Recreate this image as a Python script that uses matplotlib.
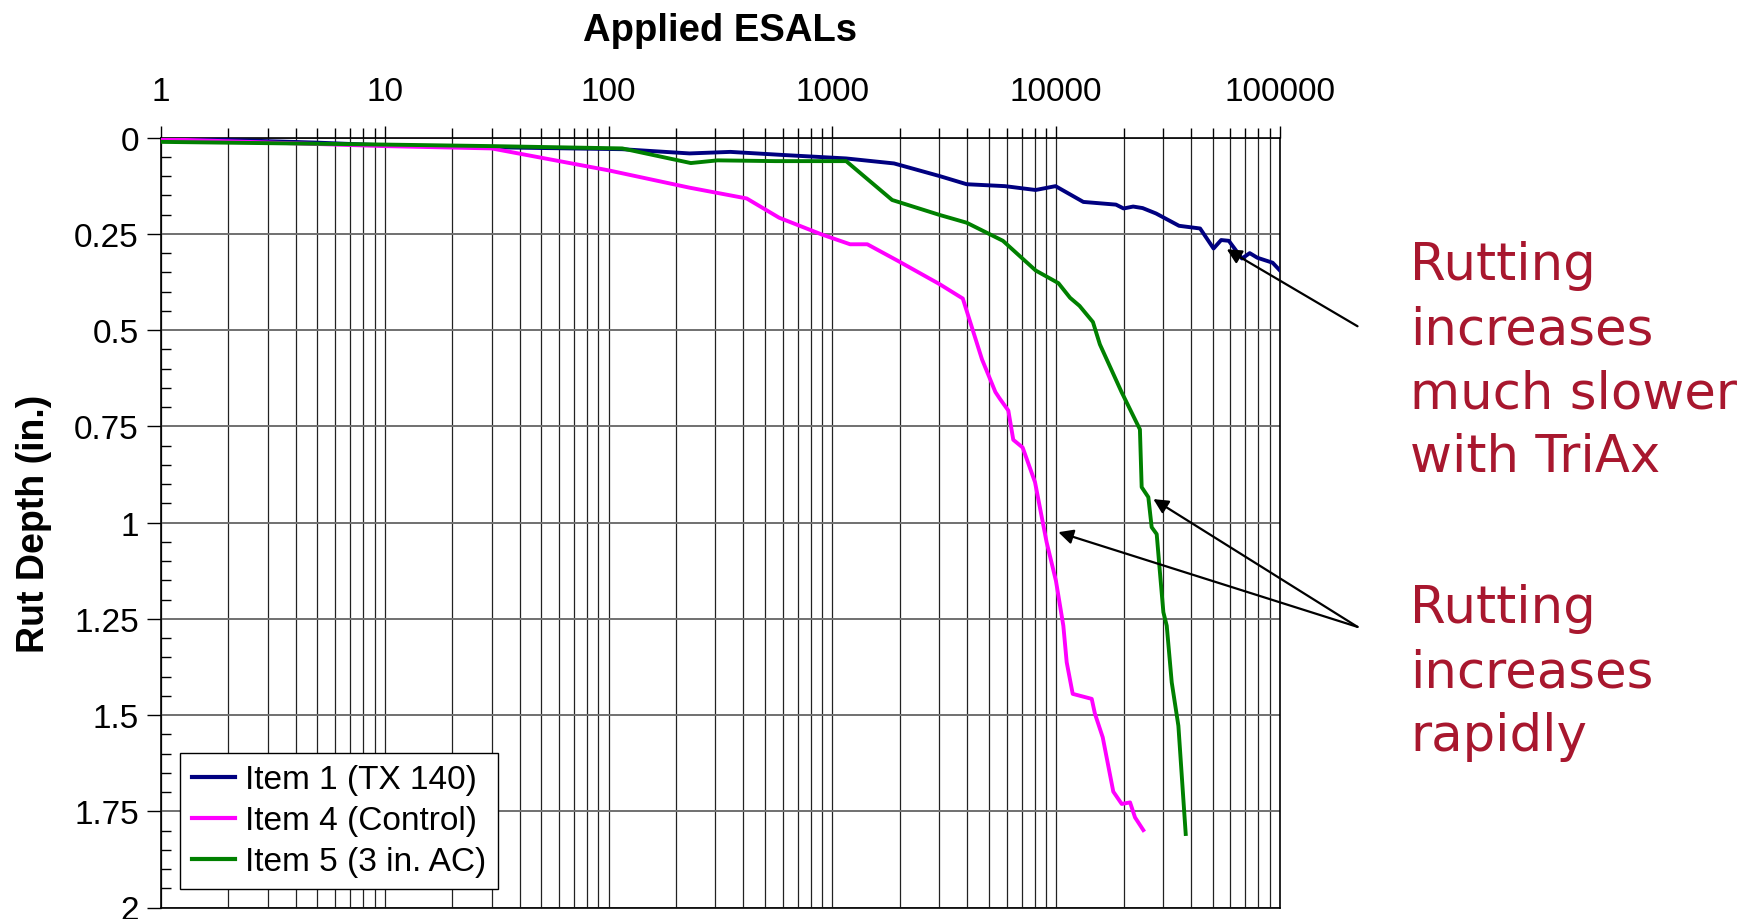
import matplotlib
matplotlib.use("Agg")
import matplotlib.pyplot as plt
from matplotlib.ticker import FixedLocator, FuncFormatter, MultipleLocator, NullFormatter

plt.rcParams['font.family'] = ['Liberation Sans', 'DejaVu Sans']

# Item 1 (TX 140)
item1_x = [1, 2, 5, 10, 30, 115, 230, 350, 600, 1150, 1885, 3020, 3980, 5900, 8090,
           9930, 13220, 18490, 20000, 22070, 24330, 27930, 35380, 43950, 50470,
           54580, 59040, 67610, 73230, 79200, 92700, 99500]
item1_y = [0.002, 0.006, 0.013, 0.02, 0.025, 0.03, 0.041, 0.037, 0.045, 0.054, 0.067,
           0.10, 0.121, 0.126, 0.136, 0.126, 0.167, 0.174, 0.184, 0.179, 0.183, 0.197,
           0.229, 0.236, 0.288, 0.266, 0.268, 0.314, 0.30, 0.312, 0.325, 0.344]

# Item 4 (Control)
item4_x = [1, 10, 30, 100, 230, 414, 578, 891, 1199, 1432, 1960, 3020, 3825, 4660,
           5350, 5610, 6110, 6430, 7080, 8040, 9060, 9970, 10760, 11140, 11850, 14410,
           14900, 16140, 17990, 19620, 21380, 22500, 24500]
item4_y = [0.004, 0.022, 0.028, 0.085, 0.13, 0.158, 0.208, 0.251, 0.277, 0.277, 0.32,
           0.381, 0.418, 0.576, 0.661, 0.679, 0.709, 0.785, 0.805, 0.895, 1.051, 1.151,
           1.268, 1.363, 1.445, 1.458, 1.497, 1.558, 1.699, 1.731, 1.727, 1.766, 1.799]

# Item 5 (3 in. AC)
item5_x = [1, 10, 30, 115, 233, 307, 556, 1152, 1849, 3020, 3980, 5780, 8090, 10230,
           11530, 12710, 14590, 15670, 19590, 23660, 24090, 25800, 26700, 28120, 28900,
           30120, 31180, 32820, 35150, 37900]
item5_y = [0.011, 0.018, 0.022, 0.028, 0.066, 0.059, 0.061, 0.061, 0.162, 0.201, 0.221,
           0.268, 0.345, 0.378, 0.416, 0.437, 0.479, 0.537, 0.661, 0.758, 0.908, 0.934,
           1.012, 1.03, 1.112, 1.233, 1.268, 1.415, 1.528, 1.809]

x_ticks = [1, 10, 100, 1000, 10000, 100000]
y_ticks = [0, 0.25, 0.5, 0.75, 1, 1.25, 1.5, 1.75, 2]

fig = plt.figure(figsize=(17.52, 9.2), dpi=100)
ax = fig.add_axes([0.0919, 0.0125, 0.6387, 0.8368])

ax.plot(item1_x, item1_y, color='#000080', lw=2.8, label='Item 1 (TX 140)', zorder=3)
ax.plot(item4_x, item4_y, color='#FF00FF', lw=2.8, label='Item 4 (Control)', zorder=3)
ax.plot(item5_x, item5_y, color='#008000', lw=2.8, label='Item 5 (3 in. AC)', zorder=3)

ax.set_xscale('log')
ax.set_xlim(1, 100000)
ax.set_ylim(2, 0)

ax.xaxis.set_major_locator(FixedLocator(x_ticks))
ax.xaxis.set_major_formatter(FuncFormatter(lambda v, p: '%d' % round(v)))
ax.xaxis.set_minor_formatter(NullFormatter())
ax.xaxis.tick_top()
ax.xaxis.set_label_position('top')

ax.yaxis.set_major_locator(FixedLocator(y_ticks))
ax.yaxis.set_major_formatter(FuncFormatter(lambda v, p: '%g' % v))
ax.yaxis.set_minor_locator(MultipleLocator(0.05))

ax.tick_params(axis='x', which='major', direction='out', length=9, width=1, labelsize=24, pad=13)
ax.tick_params(axis='x', which='minor', direction='out', length=7, width=1)
ax.tick_params(axis='y', which='major', direction='out', length=10, width=1, labelsize=24, pad=6)
ax.tick_params(axis='y', which='minor', direction='in', length=7, width=1)

ax.grid(True, axis='x', which='both', color='#222222', lw=0.9)
ax.grid(True, axis='y', which='major', color='#707070', lw=1.4)
for s in ax.spines.values():
    s.set_linewidth(1.2)

ax.set_xlabel('Applied ESALs', fontsize=27.5, fontweight='bold', labelpad=26)
ax.set_ylabel('Rut Depth (in.)', fontsize=27, fontweight='bold', labelpad=16)

leg = ax.legend(loc='lower left', bbox_to_anchor=(0.017, 0.024), borderaxespad=0,
                fontsize=24, handlelength=1.3, handletextpad=0.3, labelspacing=0.3,
                borderpad=0.35, fancybox=False, framealpha=1)
leg.get_frame().set_edgecolor('black')
leg.get_frame().set_linewidth(1)
for ln in leg.get_lines():
    ln.set_linewidth(3)

red = '#A8172E'
fig.text(0.8048, 0.738, 'Rutting\nincreases\nmuch slower\nwith TriAx', color=red,
         fontsize=37, family='DejaVu Sans', va='top', ha='left', linespacing=1.36)
fig.text(0.8048, 0.365, 'Rutting\nincreases\nrapidly', color=red,
         fontsize=37, family='DejaVu Sans', va='top', ha='left', linespacing=1.36)

arrow = dict(arrowstyle='-|>', color='black', lw=1.6, mutation_scale=22, shrinkA=0, shrinkB=0)
ax.annotate('', xy=(57800, 0.29), xytext=(222000, 0.49), arrowprops=arrow, annotation_clip=False)
ax.annotate('', xy=(10220, 1.025), xytext=(222000, 1.271), arrowprops=arrow, annotation_clip=False)
ax.annotate('', xy=(27160, 0.939), xytext=(222000, 1.271), arrowprops=arrow, annotation_clip=False)

fig.savefig('out.png', dpi=100)
